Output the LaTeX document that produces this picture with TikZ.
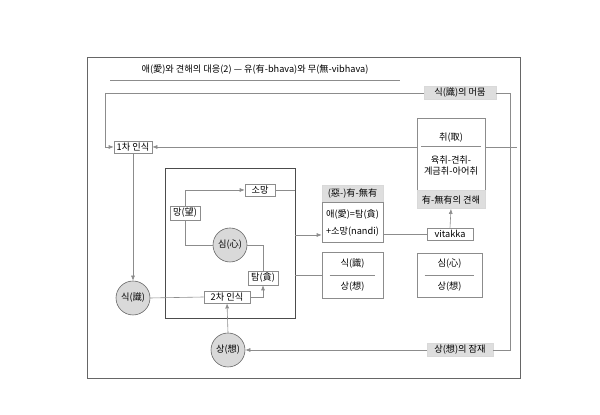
\documentclass[tikz,border=0pt]{standalone}
\usepackage{fontspec}
\setmainfont{Noto Sans CJK KR}
\usetikzlibrary{arrows.meta}
\pgfdeclarelayer{bg}
\pgfsetlayers{bg,main}
\begin{document}
\begin{tikzpicture}[x=0.5pt,y=-0.5pt,font=\fontsize{4.6}{5.5}\selectfont,
 ln/.style={draw=black!45,line width=0.3pt},
 ar/.style={ln,-{Latex[length=2.5pt,width=2pt]}},
 bx/.style={draw=black!45,line width=0.3pt,fill=white,inner sep=1pt,minimum height=6pt},
 gbx/.style={bx,fill=black!13,draw=black!15},
 circ/.style={circle,draw=black!60,fill=black!15,line width=0.3pt,minimum size=17pt,inner sep=0pt}]
\useasboundingbox (0,0) rectangle (600,415);
\draw[ln,draw=black!60] (87,57) rectangle (520,378);
\node (title) at (255,70) {애(愛)와 견해의 대응(2) — 유(有-bhava)와 무(無-vibhava)};
\draw[ln] (110,80) -- (400,80);
% inner box
\draw[ln,draw=black!70] (165,168) rectangle (295,318);
\coordinate (ibr) at (295,235);
\coordinate (ibr2) at (295,275);
\coordinate (ibr3) at (295,190);
\coordinate (rend) at (517,147);
% nodes
\node[gbx,minimum width=36pt] (mum) at (460,93) {식(識)의 머뭄};
\node[gbx,minimum width=33pt] (jam) at (460,350) {상(想)의 잠재};
\node[bx,minimum width=19pt] (first) at (133,147) {1차 인식};
\node[circ] (sik) at (133,298) {식(識)};
\node[bx,minimum width=23pt] (second) at (227,297) {2차 인식};
\node[circ] (sang) at (228,350) {상(想)};
\node[circ] (sim) at (230,245) {심(心)};
\node[bx,minimum width=15pt,minimum height=7pt] (mang) at (185,213) {망(望)};
\node[bx,minimum width=15pt] (somang) at (260,190) {소망};
\node[bx,minimum width=15pt,minimum height=7pt] (tam) at (263,278) {탐(貪)};
% middle boxes
\node[gbx,minimum width=30.5pt,minimum height=8.5pt] (yu) at (352.5,193.5) {(惡-)有-無有};
\node[bx,minimum width=30.5pt,minimum height=20pt,anchor=north,align=left] (ae) at (yu.south) {애(愛)=탐(貪)\\[3pt]+소망(nandi)};
\node[bx,minimum width=30.5pt,minimum height=23pt,align=center] (ss) at (352.5,275) {식(識)\\[6pt]상(想)};
\draw[ln] ([xshift=4pt]ss.west) -- ([xshift=-4pt]ss.east);
\node[bx,minimum width=34pt,minimum height=36pt,align=center] (chwi) at (451,154) {취(取)\\[6pt]육취-견취-\\계금취-아어취};
\draw[ln] (421,146) -- (481,146);
\node[gbx,minimum width=34pt,minimum height=9pt,anchor=north] (gyun) at (chwi.south) {有-無有의 견해};
\node[bx,minimum width=23pt] (vit) at (450,234) {vitakka};
\node[bx,minimum width=32.5pt,minimum height=22pt,align=center] (ss2) at (449.5,275) {심(心)\\[6pt]상(想)};
\draw[ln] ([xshift=4pt]ss2.west) -- ([xshift=-4pt]ss2.east);
% connectors
\draw[ln] (mum.west) -- (105,93);
\draw[ar] (105,93) -- (105,147) -- (first.west);
\draw[ln] (mum.east) -- (510,93) -- (510,350) -- (jam.east);
\draw[ar] (jam.west) -- (sang.east);
\begin{pgfonlayer}{bg}
\draw[ar] (rend) -- (first.east);
\end{pgfonlayer}
\draw[ar] (first.south) -- (sik.north);
\draw[ln] (sik.east) -- (second.west);
\draw[ar] (second.east) -| (tam.south);
\draw[ar] (sang.north) -- (second.south);
\draw[ar] (mang.north) |- (somang.west);
\draw[ln] (mang.south) |- (sim.west);
\draw[ln] (sim.east) -| (tam.north);
\draw[ln] (somang.east) -- (ibr3);
\draw[ar] (ibr) -- (ae.west |- ibr);
\draw[ln] (ibr2) -- (ss.west |- ibr2);
\draw[ln] (ae.east |- vit) -- (vit.west);
\draw[ar] (vit.north) -- (gyun.south);
\end{tikzpicture}
\end{document}
